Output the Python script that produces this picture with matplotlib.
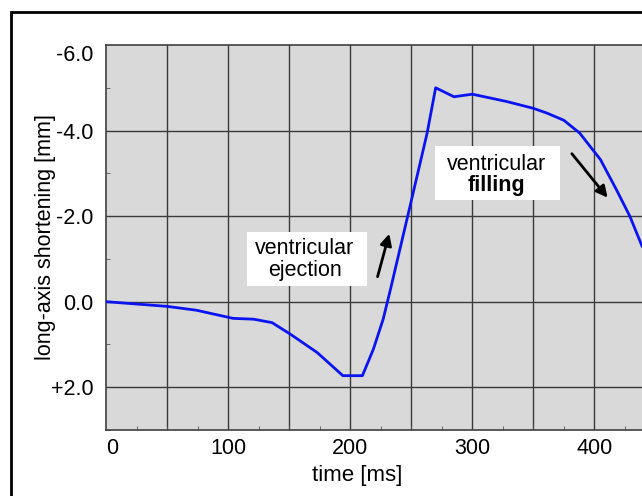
"""
Long-axis shortening of the ventricle over one heart cycle.
"""
import matplotlib
matplotlib.use("Agg")
import matplotlib.pyplot as plt
from matplotlib.patches import Rectangle
from matplotlib.ticker import MultipleLocator

plt.rcParams['font.family'] = ['Liberation Sans', 'DejaVu Sans']

# curve (time in ms, shortening in mm)
time_ms = [0, 50, 74, 104, 121, 136, 151, 173, 194, 210, 219, 227, 233,
           249, 263, 270, 285, 300, 328, 350, 361, 375, 388, 405, 418, 429, 439]
shortening_mm = [0.0, 0.11, 0.20, 0.39, 0.41, 0.49, 0.76, 1.19, 1.73, 1.73,
                 1.11, 0.41, -0.29, -2.23, -3.94, -5.0, -4.79, -4.85, -4.68,
                 -4.52, -4.41, -4.24, -3.94, -3.32, -2.62, -2.0, -1.30]

y_ticks = [-6, -4, -2, 0, 2]
y_tick_labels = ['-6.0', '-4.0', '-2.0', '0.0', '+2.0']
x_ticks = [0, 100, 200, 300, 400]

W, H = 642, 496
fig = plt.figure(figsize=(W / 100, H / 100), dpi=100)

# outer frame, cut off on the right and bottom like the source
fig.patches.append(Rectangle((11 / W, -0.1), 1.2, (H - 12) / H + 0.1,
                             transform=fig.transFigure, fill=False,
                             edgecolor='black', linewidth=2))

ax = fig.add_axes([106 / W, (H - 430) / H, (W - 106) / W, (430 - 45) / H])
ax.set_facecolor('#d9d9d9')

ax.plot(time_ms, shortening_mm, color='#0a14f0', linewidth=2, zorder=3)

ax.set_xlim(0, 439)
ax.set_ylim(3, -6)

ax.set_xticks(x_ticks)
ax.xaxis.set_minor_locator(MultipleLocator(25))
ax.set_yticks(y_ticks)
ax.set_yticklabels(y_tick_labels)
ax.yaxis.set_minor_locator(MultipleLocator(1))

# grid every 50 ms and every 2 mm
for t in range(50, 450, 50):
    ax.axvline(t, color='#3a3a3a', linewidth=1, zorder=1)
for v in y_ticks[1:]:
    ax.axhline(v, color='#3a3a3a', linewidth=1, zorder=1)

ax.tick_params(axis='both', which='major', length=0, labelsize=15.5)
ax.tick_params(axis='y', which='major', pad=9)
ax.tick_params(axis='x', which='major', pad=6)
ax.tick_params(axis='both', which='minor', direction='in', length=3,
               color='#555555')

# first labels sit inside the axes edge in the source
ax.get_yticklabels()[0].set_verticalalignment('top')
ax.get_xticklabels()[0].set_horizontalalignment('left')

for side in ['left', 'bottom', 'top']:
    ax.spines[side].set_color('#404040')
    ax.spines[side].set_linewidth(1.2)
ax.spines['right'].set_visible(False)

ax.set_xlabel('time [ms]', fontsize=16)
ax.xaxis.set_label_coords((357 - 106) / (W - 106), -0.09)
ax.set_ylabel('long-axis shortening [mm]', fontsize=15.5)
ax.yaxis.set_label_coords((56 - 106) / (W - 106), 0.5)

# white label boxes
ax.add_patch(Rectangle((115.5, -1.64), 98.3, 1.28, facecolor='white',
                       edgecolor='none', zorder=4))
ax.add_patch(Rectangle((269.5, -3.64), 102.5, 1.26, facecolor='white',
                       edgecolor='none', zorder=4))

ax.text(163, -1.105, 'ventricular', fontsize=15.5, ha='center',
        va='baseline', zorder=5)
ax.text(163, -0.60, 'ejection', fontsize=15.5, ha='center',
        va='baseline', zorder=5)
ax.text(319.5, -3.086, 'ventricular', fontsize=15.5, ha='center',
        va='baseline', zorder=5)
ax.text(319.5, -2.58, 'filling', fontsize=15.5, ha='center',
        va='baseline', fontweight='bold', zorder=5)

arrow = dict(arrowstyle='-|>', color='black', linewidth=2, mutation_scale=17)
ax.annotate('', xy=(232.6, -1.65), xytext=(221.8, -0.52), arrowprops=arrow,
            zorder=5)
ax.annotate('', xy=(412.3, -2.38), xytext=(380.1, -3.51), arrowprops=arrow,
            zorder=5)

plt.savefig('out.png', dpi=100)
